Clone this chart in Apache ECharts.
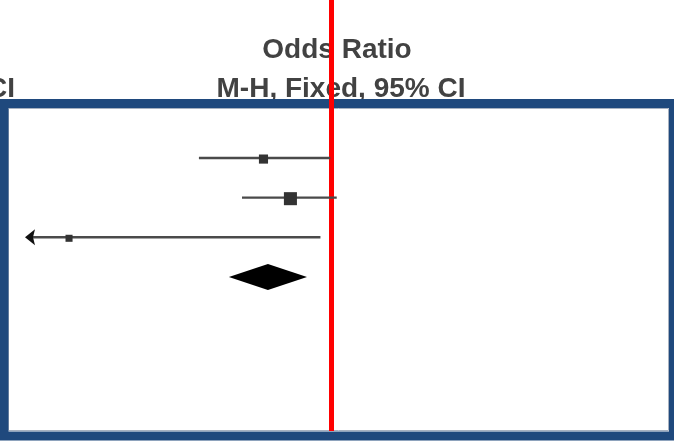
<!DOCTYPE html>
<html>
<head>
<meta charset="utf-8">
<script src="https://cdn.jsdelivr.net/npm/echarts@6/dist/echarts.min.js"></script>
<style>
  html, body { margin: 0; padding: 0; background: #ffffff; }
  #chart { width: 674px; height: 441px; }
</style>
</head>
<body>
<div id="chart"></div>
<script>
// Per-study odds ratios (M-H, fixed effect) with 95% confidence limits
const oddsRatio = [0.362, 0.543, 0.0194];
const ciLower   = [0.137, 0.262, 0.005];
const ciUpper   = [0.99, 1.09, 0.853];
const weights   = [27.5, 56.1, 16.4];   // percent weight, drives square area

// Pooled estimate (diamond)
const pooledOR    = [0.387];
const pooledLower = [0.215];
const pooledUpper = [0.697];

// Axis range (log scale) and reference value of no effect
const axisRange = [0.01, 100];
const nullValue = [1];

const AXIS_MIN = axisRange[0];

const studyData = oddsRatio.map((v, i) => [i, ciLower[i], v, ciUpper[i], weights[i]]);
const pooledData = pooledOR.map((v, i) => [oddsRatio.length + i, pooledLower[i], v, pooledUpper[i]]);

function renderStudy(params, api) {
  const row = api.value(0);
  const lo = api.value(1), est = api.value(2), hi = api.value(3), w = api.value(4);
  const clippedLo = Math.max(lo, AXIS_MIN);
  const pLo = api.coord([clippedLo, row]);
  const pEst = api.coord([est, row]);
  const pHi = api.coord([hi, row]);
  const side = Math.sqrt(w) * 1.74;
  const children = [
    {
      type: 'line',
      shape: { x1: pLo[0] + (lo < AXIS_MIN ? 6 : 0), y1: pLo[1], x2: pHi[0], y2: pHi[1] },
      style: { stroke: '#4a4a4a', lineWidth: 2.4 }
    },
    {
      type: 'rect',
      shape: { x: pEst[0] - side / 2, y: pEst[1] - side / 2 + 1, width: side, height: side },
      style: { fill: '#333333' }
    }
  ];
  if (lo < AXIS_MIN) {
    // Arrow marking a confidence limit that runs past the axis
    children.push({
      type: 'polygon',
      shape: { points: [[pLo[0], pLo[1]], [pLo[0] + 10, pLo[1] - 8], [pLo[0] + 8, pLo[1]], [pLo[0] + 10, pLo[1] + 8]] },
      style: { fill: '#111111' }
    });
  }
  return { type: 'group', children: children };
}

function renderPooled(params, api) {
  const row = api.value(0);
  const pLo = api.coord([api.value(1), row]);
  const pEst = api.coord([api.value(2), row]);
  const pHi = api.coord([api.value(3), row]);
  const h = 13;
  return {
    type: 'polygon',
    shape: { points: [[pLo[0], pLo[1]], [pEst[0], pEst[1] - h], [pHi[0], pHi[1]], [pEst[0], pEst[1] + h]] },
    style: { fill: '#000000' }
  };
}

const chart = echarts.init(document.getElementById('chart'), null, { renderer: 'canvas' });

const titleFont = 'bold 28px "Liberation Sans", Arial, sans-serif';

chart.setOption({
  animation: false,
  backgroundColor: '#ffffff',
  grid: { left: 25, width: 612, top: 0, height: 431 },
  xAxis: { type: 'log', logBase: 10, min: axisRange[0], max: axisRange[1], show: false },
  yAxis: { type: 'value', inverse: true, min: -3.99, max: 6.89, show: false },
  graphic: [
    {
      type: 'text', z: 1,
      style: { text: 'Odds Ratio', x: 337, y: 64, textAlign: 'center', textVerticalAlign: 'bottom', font: titleFont, fill: '#424242' }
    },
    {
      type: 'text', z: 1,
      style: { text: 'M-H, Fixed, 95% CI', x: 341, y: 103, textAlign: 'center', textVerticalAlign: 'bottom', font: titleFont, fill: '#424242' }
    },
    {
      type: 'text', z: 1,
      style: { text: '95% CI', x: 15, y: 103, textAlign: 'right', textVerticalAlign: 'bottom', font: titleFont, fill: '#424242' }
    },
    {
      type: 'rect', z: 1,
      shape: { x: 8.5, y: 108.5, width: 660, height: 322 },
      style: { fill: 'none', stroke: '#a7b1c0', lineWidth: 1 }
    },
    {
      type: 'rect', z: 2,
      shape: { x: 4, y: 103.5, width: 669.5, height: 332.5 },
      style: { fill: 'none', stroke: '#1F497D', lineWidth: 9 }
    }
  ],
  series: [
    {
      type: 'custom',
      z: 5,
      renderItem: renderStudy,
      data: studyData,
      silent: true
    },
    {
      type: 'custom',
      z: 5,
      renderItem: renderPooled,
      data: pooledData,
      silent: true
    },
    {
      type: 'line',
      z: 20,
      data: [],
      silent: true,
      markLine: {
        silent: true,
        symbol: ['none', 'none'],
        label: { show: false },
        lineStyle: { color: '#ff0000', width: 5, type: 'solid' },
        data: nullValue.map(v => ({ xAxis: v }))
      }
    }
  ]
});
</script>
</body>
</html>
